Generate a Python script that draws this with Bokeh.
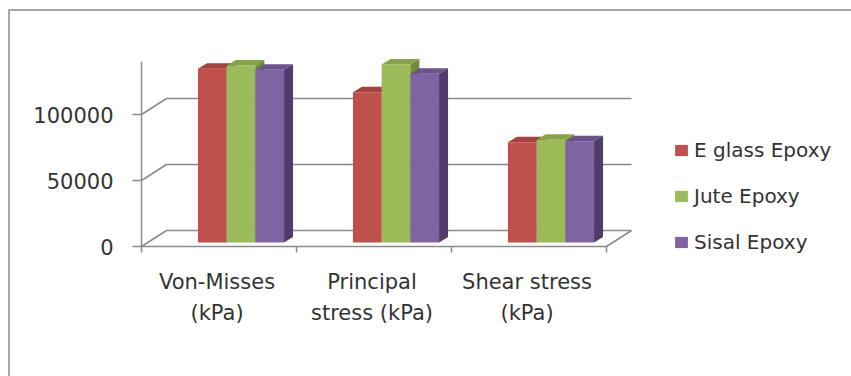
from bokeh.plotting import figure
from bokeh.models import Range1d, Legend, LegendItem
from bokeh.embed import file_html
from bokeh.resources import INLINE
from bokeh.core.properties import value

# ---- data -------------------------------------------------------------
categories = ["Von-Misses\n(kPa)", "Principal\nstress (kPa)", "Shear stress\n(kPa)"]
series_names = ["E glass Epoxy", "Jute Epoxy", "Sisal Epoxy"]
e_glass_epoxy = [131600, 113900, 76000]
jute_epoxy = [134100, 134800, 77800]
sisal_epoxy = [130800, 127800, 76700]
y_ticks = [0, 50000, 100000]
y_tick_labels = ["0", "50000", "100000"]
axis_top = 140000

series_values = [e_glass_epoxy, jute_epoxy, sisal_epoxy]
front_colors = ["#C0504D", "#9BBB59", "#8064A2"]
top_colors = ["#A8403D", "#86A446", "#6C528E"]
side_colors = ["#8E3634", "#718D39", "#4F3C6C"]

FONT = "DejaVu Sans"
TEXT_COLOR = "#333333"

# ---- oblique projection set-up (all in pixels, converted to data units) --
W, H = 851, 376
CAT_PX = 155.0               # width of one category band on the floor front
VAL_PX = 66.0 / 50000        # pixels per value unit
ORIGIN_X, ORIGIN_Y = 141.0, 246.0   # front-left floor corner (px)
WALL_DX, WALL_DY = 25.0, 16.0       # floor depth offset (px)
BAR_DX, BAR_DY = 22.0, 4.0          # bar plane offset from the floor front
BAR_W_PX = 28.7
DEPTH_DX, DEPTH_DY = 9.0, 5.5       # bar thickness seen obliquely


def ux(px):
    return px / CAT_PX


def uy(px):
    return px / VAL_PX


def X(px):
    return ux(px - ORIGIN_X)


def Y(px):
    return uy(ORIGIN_Y - px)


p = figure(width=W, height=H, output_backend="svg", toolbar_location=None,
           x_axis_type=None, y_axis_type=None, min_border=0,
           x_range=Range1d(X(0), X(W)), y_range=Range1d(Y(H), Y(0)),
           background_fill_color="white", border_fill_color="white",
           outline_line_color=None)
p.grid.visible = False

GRID = "#8A8A8A"
n_cat = len(categories)

# chart border (top and left edges)
p.line([X(8), X(W)], [Y(9.5), Y(9.5)], line_color="#A6A6A6", line_width=2)
p.line([X(8.5), X(8.5)], [Y(9.5), Y(H)], line_color="#A6A6A6", line_width=2)

# back-wall gridlines, running from the front axis to the back plane
gx, gy = [], []
for t in y_ticks:
    gx.append([0, ux(WALL_DX), n_cat + ux(WALL_DX)])
    gy.append([t, t + uy(WALL_DY), t + uy(WALL_DY)])
p.multi_line(gx, gy, line_color=GRID, line_width=1.5)

# floor outline: front edge and right edge
p.line([0, n_cat, n_cat + ux(WALL_DX)], [0, 0, uy(WALL_DY)],
       line_color=GRID, line_width=1.5)

# value axis line and ticks
p.line([0, 0], [0, axis_top], line_color=GRID, line_width=1.5)
p.segment(x0=[ux(-9)] * len(y_ticks), y0=y_ticks,
          x1=[0] * len(y_ticks), y1=y_ticks, line_color=GRID, line_width=1.5)
p.text(x=[X(113)] * len(y_ticks), y=y_ticks, text=y_tick_labels,
       text_align="right", text_baseline="middle",
       text_font=value(FONT), text_font_size="21px", text_color=TEXT_COLOR)

# category ticks
cat_edges = list(range(n_cat + 1))
p.segment(x0=cat_edges, y0=[0] * len(cat_edges), x1=cat_edges,
          y1=[-uy(6)] * len(cat_edges), line_color=GRID, line_width=1.5)

# category labels, two lines each
label_x = [i + 0.5 - ux(2) for i in range(n_cat)]
line1 = [c.split("\n")[0] for c in categories]
line2 = [c.split("\n")[1] for c in categories]
for lines, mid_px in ((line1, 281), (line2, 312)):
    p.text(x=label_x, y=[Y(mid_px)] * n_cat, text=lines,
           text_align="center", text_baseline="middle",
           text_font=value(FONT), text_font_size="21px",
           text_color=TEXT_COLOR)

# 3-D columns
bar_w = ux(BAR_W_PX)
base = uy(BAR_DY)
ddx, ddy = ux(DEPTH_DX), uy(DEPTH_DY)
legend_items = []
for j, (name, vals) in enumerate(zip(series_names, series_values)):
    lefts = [i + 0.5 + ux(BAR_DX) + (j - 1.5) * bar_w for i in range(n_cat)]
    rights = [l + bar_w for l in lefts]
    tops = [v + base for v in vals]
    front = p.quad(left=lefts, right=rights, bottom=[base] * n_cat, top=tops,
                   fill_color=front_colors[j], line_color=None)
    top_xs = [[l, r, r + ddx, l + ddx] for l, r in zip(lefts, rights)]
    top_ys = [[t, t, t + ddy, t + ddy] for t in tops]
    p.patches(top_xs, top_ys, fill_color=top_colors[j], line_color=None)
    side_xs = [[r, r + ddx, r + ddx, r] for r in rights]
    side_ys = [[base, base + ddy, t + ddy, t] for t in tops]
    p.patches(side_xs, side_ys, fill_color=side_colors[j], line_color=None)
    legend_items.append(LegendItem(label=name, renderers=[front]))

ITEM_H, ITEM_GAP = 30, 16
legend = Legend(items=legend_items, location=(673, H - (242 + ITEM_H / 2)),
                glyph_width=16, glyph_height=14, label_standoff=5,
                label_height=ITEM_H, spacing=ITEM_GAP, padding=0, margin=0,
                border_line_alpha=0, background_fill_alpha=0,
                label_text_font=FONT, label_text_font_size="20px",
                label_text_color=TEXT_COLOR)
p.add_layout(legend)

open("out.html", "w").write(file_html(p, INLINE))
